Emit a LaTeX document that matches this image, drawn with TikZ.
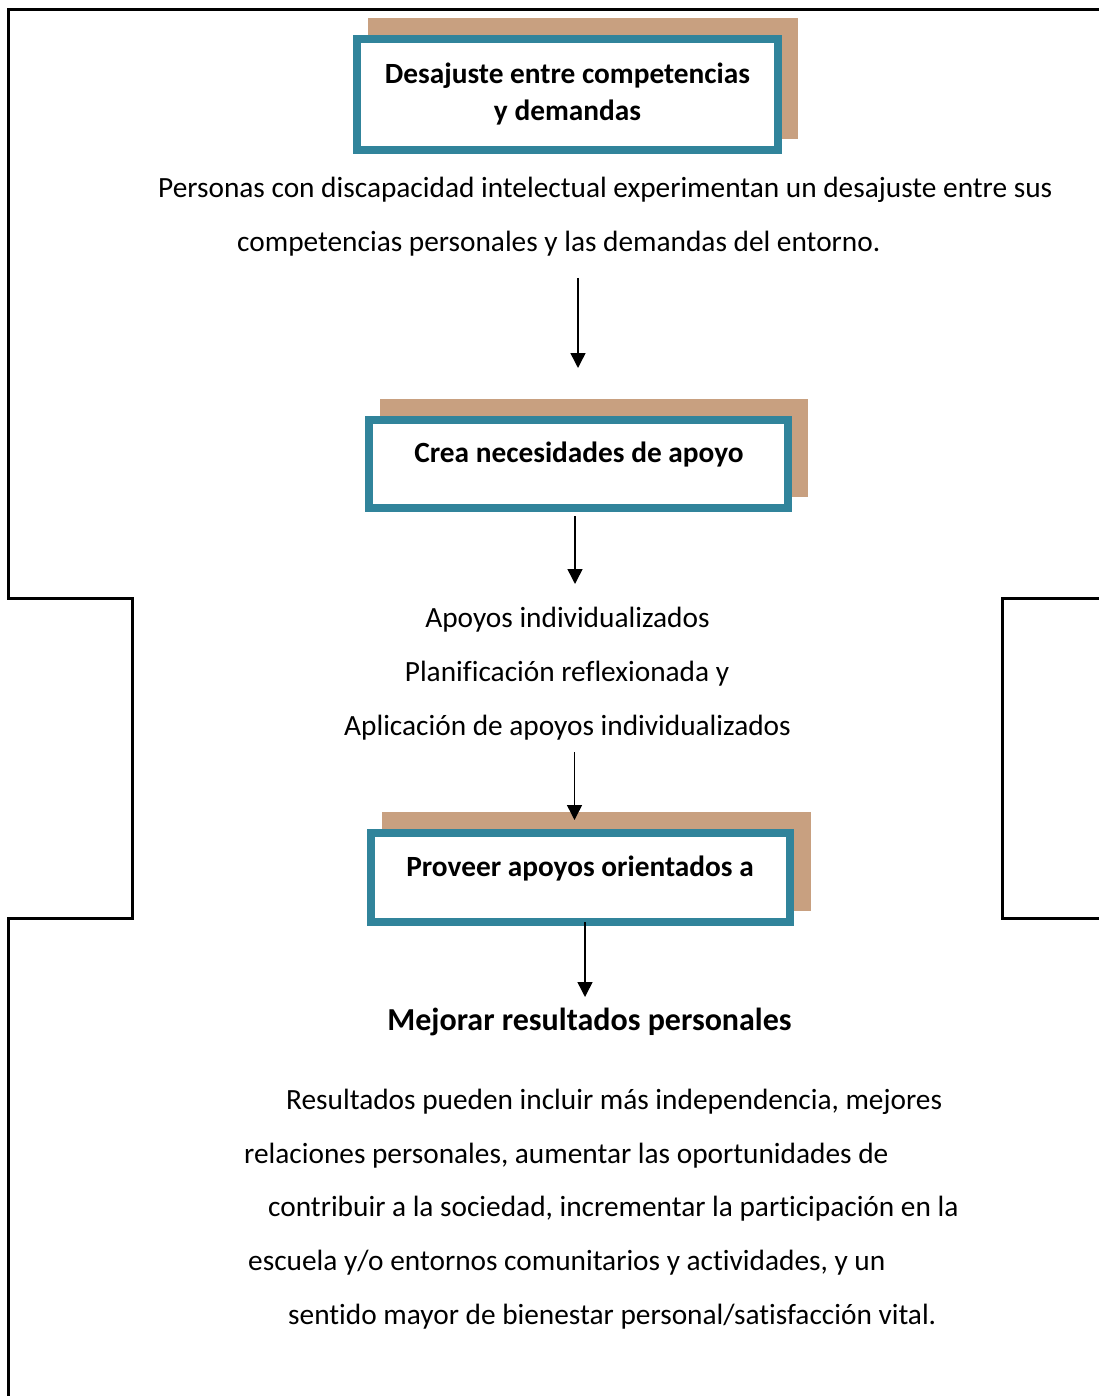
\documentclass[tikz,border=0pt]{standalone}
\usepackage{fontspec}
\setmainfont[Ligatures=NoCommon]{Carlito}
\usetikzlibrary{arrows.meta}
\definecolor{teal}{HTML}{31849B}
\definecolor{tan}{HTML}{C8A080}
\begin{document}
\begin{tikzpicture}[x=1pt,y=-1pt,
  outline/.style={line width=3pt,black},
  tanbox/.style={fill=tan,draw=none,inner sep=0pt},
  tealbox/.style={draw=teal,line width=8pt,fill=white,inner sep=0pt},
  boxtext/.style={font=\fontsize{29.33}{34}\selectfont\bfseries,inner sep=0pt,anchor=base},
  bodytext/.style={font=\fontsize{29.33}{34}\selectfont,inner sep=0pt,anchor=base west},
  midtext/.style={font=\fontsize{29.33}{34}\selectfont,inner sep=0pt,anchor=base},
  flow/.style={line width=1.5pt,-{Triangle[width=15pt,length=15pt]}}]
\useasboundingbox (0,0) rectangle (1099,1396);
% outline
\draw[outline] (1100,9.5) -- (8.5,9.5) -- (8.5,598.5) -- (132,598.5) -- (132,918) -- (8.5,918) -- (8.5,1397);
\draw[outline] (1100,598.5) -- (1002,598.5) -- (1002,918) -- (1100,918);
% box 1
\node[tanbox,minimum width=430pt,minimum height=121pt] (tan1) at (583,78.5) {};
\node[tealbox,minimum width=421pt,minimum height=111pt] (box1) at (567.5,94.5) {};
\node[boxtext] (t1a) at (567.5,84) {Desajuste entre competencias};
\node[boxtext] (t1b) at (567.5,121) {y demandas};
% paragraph 1
\node[bodytext] (p1a) at (158,198) {Personas con discapacidad intelectual experimentan un desajuste entre sus};
\node[bodytext] (p1b) at (237,252) {competencias personales y las demandas del entorno.};
\coordinate (a1s) at (578,278);
\coordinate (a1e) at (578,368);
\draw[flow] (a1s) -- (a1e);
% box 2
\node[tanbox,minimum width=428pt,minimum height=98pt] (tan2) at (594,448) {};
\node[tealbox,minimum width=419pt,minimum height=88pt] (box2) at (578.5,464) {};
\node[boxtext] (t2) at (579,462) {Crea necesidades de apoyo};
\coordinate (a2s) at (575,516);
\coordinate (a2e) at (575,584);
\draw[flow] (a2s) -- (a2e);
% middle text
\node[midtext] (m1) at (567.5,627) {Apoyos individualizados};
\node[midtext] (m2) at (567,681) {Planificación reflexionada y};
\node[midtext] (m3) at (567.5,735) {Aplicación de apoyos individualizados};
% box 3
\node[tanbox,minimum width=429pt,minimum height=99pt] (tan3) at (596.5,861.5) {};
\node[tealbox,minimum width=419pt,minimum height=89pt] (box3) at (580.5,877.5) {};
\node[boxtext] (t3) at (580,876) {Proveer apoyos orientados a};
\coordinate (a3s) at (574.5,752);
\coordinate (a3e) at (574.5,820);
\draw[flow] (a3s) -- (a3e);
\coordinate (a4s) at (585,922);
\coordinate (a4e) at (585,997);
\draw[flow] (a4s) -- (a4e);
% result
\node[font=\fontsize{32}{36}\selectfont\bfseries,inner sep=0pt,anchor=base] (res) at (589.5,1030) {Mejorar resultados personales};
\node[bodytext] (r1) at (286,1109) {Resultados pueden incluir más independencia, mejores};
\node[bodytext] (r2) at (244,1163) {relaciones personales, aumentar las oportunidades de};
\node[bodytext] (r3) at (268,1216) {contribuir a la sociedad, incrementar la participación en la};
\node[bodytext] (r4) at (248,1270) {escuela y/o entornos comunitarios y actividades, y un};
\node[bodytext] (r5) at (288,1324) {sentido mayor de bienestar personal/satisfacción vital.};
\end{tikzpicture}
\end{document}
